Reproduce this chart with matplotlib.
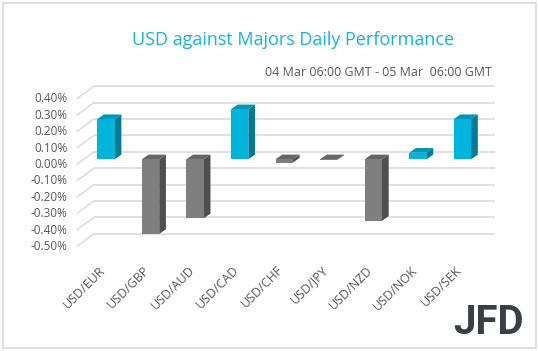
import numpy as np
import matplotlib
matplotlib.use("Agg")
import matplotlib.pyplot as plt
from matplotlib.patches import Polygon, Rectangle
from matplotlib.transforms import ScaledTranslation

# ---------------------------------------------------------------------------
# Data
# ---------------------------------------------------------------------------
pairs = ["USD/EUR", "USD/GBP", "USD/AUD", "USD/CAD", "USD/CHF",
         "USD/JPY", "USD/NZD", "USD/NOK", "USD/SEK"]
change = [0.245, -0.455, -0.36, 0.305, -0.02, -0.004, -0.375, 0.04, 0.245]  # %
yticks = [0.4, 0.3, 0.2, 0.1, 0.0, -0.1, -0.2, -0.3, -0.4, -0.5]
ytick_labels = [f"{v:.2f}%" for v in yticks]

title = "USD against Majors Daily Performance"
subtitle = "04 Mar 06:00 GMT - 05 Mar  06:00 GMT"

# ---------------------------------------------------------------------------
# Style
# ---------------------------------------------------------------------------
W, H, DPI = 538, 351, 100
FONT = "Open Sans"
TXT_GREY = "#595959"
GRID = "#d9d9d9"
POS = ("#00b4dc", "#0096b8", "#007a96")   # front, top, side
NEG = ("#7f7f7f", "#666666", "#4f4f4f")

# pseudo-3D geometry, in pixels
BACK = (10.3, 7.6)      # bar plane -> back wall
FRONT = (-6.4, -4.7)    # bar plane -> floor front edge
DEPTH = (6.7, 4.7)      # bar depth
BAR_W = 0.39            # fraction of a category

fig = plt.figure(figsize=(W / DPI, H / DPI), dpi=DPI)
ax_l, ax_r, ax_top, ax_bot = 83.7, 484.7, 93.7, 241.3
ax = fig.add_axes([ax_l / W, 1 - ax_bot / H, (ax_r - ax_l) / W, (ax_bot - ax_top) / H])
n = len(pairs)
ax.set_xlim(0, n)
ax.set_ylim(-0.5, 0.4)
for s in ax.spines.values():
    s.set_visible(False)

# pixel -> data unit conversion
px_x = n / (ax_r - ax_l)
px_y = 0.9 / (ax_bot - ax_top)
bx, by = BACK[0] * px_x, BACK[1] * px_y
fx, fy = FRONT[0] * px_x, FRONT[1] * px_y
dx, dy = DEPTH[0] * px_x, DEPTH[1] * px_y

# gridlines: back wall + left side wall diagonal
for v in yticks:
    ax.plot([0 + bx, n + bx], [v + by, v + by], color=GRID, lw=1.1,
            clip_on=False, zorder=1, solid_capstyle="butt")
    ax.plot([0 + fx, 0 + bx], [v + fy, v + by], color=GRID, lw=1.0,
            clip_on=False, zorder=1)

# bars
for i, v in enumerate(change):
    front, top, side = POS if v > 0 else NEG
    x0 = i + 0.5 - BAR_W / 2
    x1 = i + 0.5 + BAR_W / 2
    lo, hi = min(0, v), max(0, v)
    ax.add_patch(Polygon([(x1, lo), (x1 + dx, lo + dy), (x1 + dx, hi + dy), (x1, hi)],
                         closed=True, fc=side, ec="none", zorder=3))
    ax.add_patch(Polygon([(x0, hi), (x1, hi), (x1 + dx, hi + dy), (x0 + dx, hi + dy)],
                         closed=True, fc=top, ec="none", zorder=3))
    ax.bar(i + 0.5, v, width=BAR_W, color=front, zorder=4, linewidth=0)

# ticks
ax.set_yticks(yticks)
ax.set_yticklabels(ytick_labels)
ax.set_xticks(np.arange(n) + 0.5)
ax.set_xticklabels(pairs)
ax.tick_params(axis="y", length=0, pad=11.5, labelsize=8.5, labelcolor=TXT_GREY)
ax.tick_params(axis="x", length=0, pad=16, labelsize=9, labelcolor=TXT_GREY,
               labelrotation=45)
for lab in ax.get_yticklabels():
    lab.set_fontfamily(FONT)
    lab.set_transform(lab.get_transform() + ScaledTranslation(0, -3.7 / DPI, fig.dpi_scale_trans))
for lab in ax.get_xticklabels():
    lab.set_fontfamily(FONT)
    lab.set_horizontalalignment("right")
    lab.set_verticalalignment("top")
    lab.set_rotation_mode("default")
    lab.set_transform(lab.get_transform() + ScaledTranslation(2 / DPI, 0, fig.dpi_scale_trans))

# titles
fig.text(293 / W, 1 - 40 / H, title, ha="center", va="center",
         fontsize=13, color="#14b4dc", family=FONT)
fig.text(492 / W, 1 - 73 / H, subtitle, ha="right", va="center",
         fontsize=9, color=TXT_GREY, family=FONT)

# logo
fig.text(489 / W, 1 - 323 / H, "JFD", ha="center", va="center",
         fontsize=29, fontweight="bold", color="#3a3f45", family="Roboto")

# outer frame
fig.add_artist(Rectangle((2.5 / W, 3 / H), 533 / W, 345.5 / H, transform=fig.transFigure,
                         fill=False, ec="#d9d9d9", lw=1.2))

fig.savefig("out.png", dpi=DPI)
